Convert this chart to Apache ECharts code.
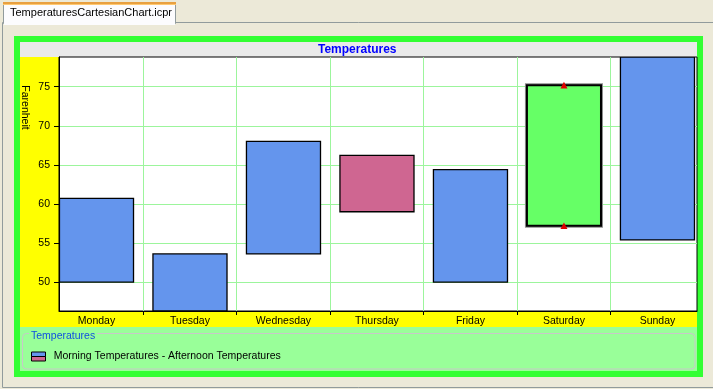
<!DOCTYPE html>
<html>
<head>
<meta charset="utf-8">
<script src="https://cdn.jsdelivr.net/npm/echarts@6/dist/echarts.min.js"></script>
<style>
html,body{margin:0;padding:0;background:#ECE9D8;}
#chart{width:713px;height:389px;}
</style>
</head>
<body>
<div id="chart"></div>
<script>
// ---- data ----
const days = ['Monday', 'Tuesday', 'Wednesday', 'Thursday', 'Friday', 'Saturday', 'Sunday'];
const morningTemps = [50.0, 46.3, 53.6, 66.2, 50.0, 57.2, 55.4];
const afternoonTemps = [60.7, 53.6, 68.0, 59.0, 64.4, 75.2, 78.8];
const yTickValues = [50, 55, 60, 65, 70, 75];
const dayBoundaries = [0.5, 1.5, 2.5, 3.5, 4.5, 5.5];
const dayPositions = [0, 1, 2, 3, 4, 5, 6];
const selectedDayIndex = 5;
const yRange = [46.3, 78.8];
const xRange = [-0.401, 6.423];

const FONT = 'Liberation Sans';
const BLUE = '#6495ED', PINK = '#CF6691', GREEN = '#66FF66';
const GRIDLINE = '#9CF59C';

const seriesData = days.map((d, i) => [i, morningTemps[i], afternoonTemps[i]]);

const chart = echarts.init(document.getElementById('chart'), null, {renderer: 'canvas'});

function renderBar(params, api) {
  const i = api.value(0), m = api.value(1), a = api.value(2);
  const half = 0.396;
  const tl = api.coord([i - half, Math.max(m, a)]);
  const br = api.coord([i + half, Math.min(m, a)]);
  const shape = {x: tl[0], y: tl[1], width: br[0] - tl[0], height: br[1] - tl[1]};
  if (params.dataIndex === selectedDayIndex) {
    const cx = (tl[0] + br[0]) / 2;
    const tri = (y) => ({
      type: 'polygon',
      shape: {points: [[cx - 3.5, y + 3.3], [cx + 3.5, y + 3.3], [cx, y - 3.3]]},
      style: {fill: '#E00000'}
    });
    return {
      type: 'group',
      children: [
        {type: 'rect', shape: shape, style: {fill: 'none', stroke: '#8C8C8C', lineWidth: 4}},
        {type: 'rect', shape: shape, style: {fill: GREEN, stroke: '#000', lineWidth: 2}},
        tri(tl[1]),
        tri(br[1])
      ]
    };
  }
  return {
    type: 'rect',
    shape: shape,
    style: {fill: a >= m ? BLUE : PINK, stroke: '#000', lineWidth: 1.3}
  };
}

const option = {
  animation: false,
  backgroundColor: '#ECE9D8',
  title: {
    text: 'Temperatures',
    left: 318, top: 43, padding: 0,
    textStyle: {fontFamily: FONT, fontSize: 12, fontWeight: 'bold', color: '#0000FF', lineHeight: 13}
  },
  grid: {
    left: 59, right: 16, top: 57, bottom: 78,
    show: true, backgroundColor: '#FFFFFF', borderColor: '#000', borderWidth: 1
  },
  xAxis: {
    type: 'value', min: xRange[0], max: xRange[1],
    axisLine: {show: true, onZero: false, lineStyle: {color: '#000', width: 1}},
    axisTick: {show: true, length: 4, customValues: dayBoundaries, lineStyle: {color: '#000'}},
    axisLabel: {
      show: true, customValues: dayPositions, margin: 5,
      formatter: v => days[Math.round(v)],
      fontFamily: FONT, fontSize: 10.5, color: '#000'
    },
    splitLine: {show: true, lineStyle: {color: GRIDLINE, width: 1}}
  },
  yAxis: {
    type: 'value', min: yRange[0], max: yRange[1],
    axisLine: {show: true, onZero: false, lineStyle: {color: '#000', width: 1}},
    axisTick: {show: true, length: 5, customValues: yTickValues, lineStyle: {color: '#000'}},
    axisLabel: {
      show: true, customValues: yTickValues, margin: 9,
      fontFamily: FONT, fontSize: 10.5, color: '#000'
    },
    splitLine: {show: true, lineStyle: {color: GRIDLINE, width: 1}}
  },
  series: [{
    type: 'custom',
    name: 'Morning Temperatures - Afternoon Temperatures',
    clip: true,
    renderItem: renderBar,
    encode: {x: 0, y: [1, 2]},
    data: seriesData,
    z: 3
  }],
  graphic: [
    // window panel + tab
    {type: 'rect', z: -20, shape: {x: 2.5, y: 22.5, width: 712, height: 365}, style: {fill: '#ECE9D8', stroke: '#919B9C', lineWidth: 1}},
    {type: 'rect', z: -19, shape: {x: 3.5, y: 3.5, width: 172, height: 20}, style: {fill: '#FCFCFE', stroke: '#919B9C', lineWidth: 1}},
    {type: 'rect', z: -18, shape: {x: 4, y: 22, width: 171, height: 3}, style: {fill: '#FCFCFE'}},
    {type: 'rect', z: -18, shape: {x: 3, y: 2, width: 173, height: 2}, style: {fill: '#E8A040'}},
    {type: 'rect', z: -18, shape: {x: 3, y: 4, width: 173, height: 1}, style: {fill: '#FFC870'}},
    {type: 'text', z: -17, x: 10, y: 13, style: {text: 'TemperaturesCartesianChart.icpr', fontFamily: FONT, fontSize: 11, fill: '#000', textAlign: 'left', textVerticalAlign: 'middle'}},
    // chart frame
    {type: 'rect', z: -16, shape: {x: 14, y: 36, width: 689, height: 341}, style: {fill: '#33FF33'}},
    {type: 'rect', z: -15, shape: {x: 20, y: 42, width: 677, height: 15}, style: {fill: '#EAEAEA'}},
    {type: 'rect', z: -15, shape: {x: 20, y: 57, width: 677, height: 270}, style: {fill: '#FFFF00'}},
    {type: 'rect', z: -15, shape: {x: 20, y: 327, width: 677, height: 44}, style: {fill: '#99FF99'}},
    // axis name
    {type: 'text', x: 25, y: 107.5, rotation: -Math.PI / 2, style: {text: 'Farenheit', fontFamily: FONT, fontSize: 10.5, fill: '#000', textAlign: 'center', textVerticalAlign: 'middle'}},
    // legend
    {type: 'rect', z: 1, shape: {x: 22.5, y: 333.5, width: 672.5, height: 35.5, r: 4}, style: {fill: 'none', stroke: '#C8C8C8', lineWidth: 1}},
    {type: 'text', z: 2, x: 29, y: 336, style: {text: 'Temperatures', fontFamily: FONT, fontSize: 10.5, fill: '#1050E0', textAlign: 'left', textVerticalAlign: 'middle', backgroundColor: '#99FF99', padding: [0, 2]}},
    {type: 'rect', z: 2, shape: {x: 31.5, y: 352, width: 14, height: 4.5}, style: {fill: BLUE, stroke: '#000', lineWidth: 1}},
    {type: 'rect', z: 2, shape: {x: 31.5, y: 356.5, width: 14, height: 4.5}, style: {fill: PINK, stroke: '#000', lineWidth: 1}},
    {type: 'text', z: 2, x: 53.7, y: 356.5, style: {text: 'Morning Temperatures - Afternoon Temperatures', fontFamily: FONT, fontSize: 10.5, fill: '#000', textAlign: 'left', textVerticalAlign: 'middle'}}
  ]
};
chart.setOption(option);
</script>
</body>
</html>
